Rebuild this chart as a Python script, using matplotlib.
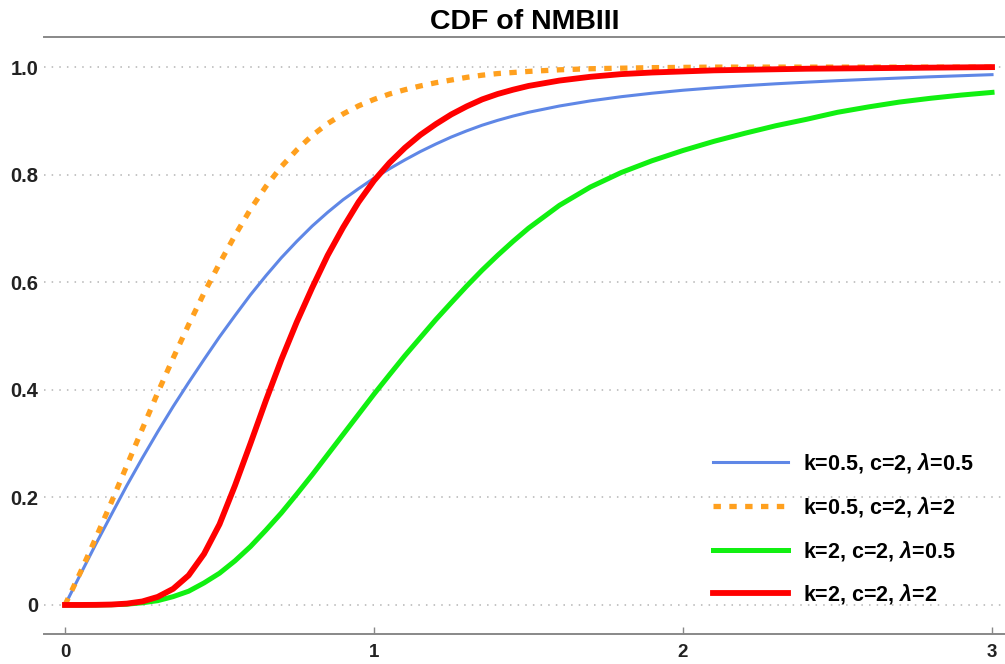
"""
CDF of NMBIII for four (k, c, lambda) settings
"""
import matplotlib
matplotlib.use('Agg')
import matplotlib.pyplot as plt

plt.rcParams['font.family'] = ['Liberation Sans', 'DejaVu Sans']
plt.rcParams['font.weight'] = 'bold'
plt.rcParams['mathtext.fontset'] = 'custom'
plt.rcParams['mathtext.it'] = 'Liberation Sans:italic:bold'
plt.rcParams['mathtext.rm'] = 'Liberation Sans:bold'

# x grid shared by all curves (finer where the curves bend)
x = [0.0, 0.05, 0.1, 0.15, 0.2, 0.25, 0.3, 0.35, 0.4, 0.45, 0.5, 0.55, 0.6,
     0.65, 0.7, 0.75, 0.8, 0.85, 0.9, 0.95, 1.0, 1.05, 1.1, 1.15, 1.2, 1.25,
     1.3, 1.35, 1.4, 1.45, 1.5, 1.6, 1.7, 1.8, 1.9, 2.0, 2.1, 2.2, 2.3, 2.4,
     2.5, 2.6, 2.7, 2.8, 2.9, 3.0]

# k=0.5, c=2, lambda=0.5
cdf_blue = [0.0, 0.057, 0.1135, 0.168, 0.222, 0.273, 0.322, 0.369, 0.4135, 0.4565,
            0.4985, 0.538, 0.5765, 0.612, 0.6455, 0.676, 0.7045, 0.730, 0.7535, 0.774,
            0.7935, 0.811, 0.8275, 0.843, 0.857, 0.870, 0.8815, 0.892, 0.901, 0.909,
            0.916, 0.9277, 0.9372, 0.945, 0.9515, 0.957, 0.9615, 0.9655, 0.969, 0.972,
            0.9748, 0.9773, 0.9797, 0.982, 0.984, 0.986]

# k=0.5, c=2, lambda=2
cdf_orange = [0.0, 0.061, 0.125, 0.191, 0.259, 0.327, 0.3945, 0.459, 0.521, 0.580,
              0.635, 0.687, 0.7355, 0.778, 0.815, 0.846, 0.873, 0.895, 0.913, 0.928,
              0.940, 0.950, 0.958, 0.965, 0.971, 0.976, 0.981, 0.985, 0.988, 0.990,
              0.992, 0.995, 0.997, 0.998, 0.999, 0.9995, 1.0, 1.0, 1.0, 1.0,
              1.0, 1.0, 1.0, 1.0, 1.0, 1.0]

# k=2, c=2, lambda=0.5
cdf_green = [0.0, 0.0, 0.0001, 0.0005, 0.0015, 0.004, 0.008, 0.0155, 0.0255, 0.041,
             0.059, 0.082, 0.1085, 0.139, 0.171, 0.206, 0.242, 0.2795, 0.317, 0.3545,
             0.392, 0.428, 0.4635, 0.497, 0.5305, 0.562, 0.593, 0.6225, 0.650, 0.676,
             0.7005, 0.743, 0.777, 0.804, 0.826, 0.845, 0.862, 0.877, 0.891, 0.903,
             0.916, 0.926, 0.935, 0.942, 0.948, 0.953]

# k=2, c=2, lambda=2
cdf_red = [0.0, 0.0, 0.0002, 0.0008, 0.0025, 0.0065, 0.015, 0.030, 0.055, 0.095,
           0.150, 0.222, 0.300, 0.380, 0.456, 0.526, 0.590, 0.650, 0.702, 0.749,
           0.789, 0.822, 0.850, 0.874, 0.894, 0.912, 0.927, 0.940, 0.950, 0.958,
           0.965, 0.975, 0.982, 0.987, 0.990, 0.992, 0.994, 0.995, 0.996, 0.997,
           0.9975, 0.998, 0.9985, 0.999, 0.9995, 1.0]

labels = ['k=0.5, c=2, $\\lambda$=0.5', 'k=0.5, c=2, $\\lambda$=2',
          'k=2, c=2, $\\lambda$=0.5', 'k=2, c=2, $\\lambda$=2']

fig = plt.figure(figsize=(10.05, 6.64), dpi=100)
ax = fig.add_axes([44 / 1005, 30 / 664, 961 / 1005, 597 / 664])

ax.plot(x, cdf_blue, color='#5f87e6', linewidth=2.2, label=labels[0])
ax.plot(x, cdf_orange, color='#ffa01e', linewidth=3.8, linestyle=(0, (1.4, 1.6)),
        dash_capstyle='butt', label=labels[1])
ax.plot(x, cdf_green, color='#11f011', linewidth=3.6, label=labels[2])
ax.plot(x, cdf_red, color='#ff0000', linewidth=4.2, label=labels[3])

ax.set_xlim(-0.068, 3.042)
ax.set_ylim(-0.054, 1.056)

ax.set_xticks([0, 1, 2, 3])
ax.set_xticklabels(['0', '1', '2', '3'])
ax.set_yticks([0, 0.2, 0.4, 0.6, 0.8, 1.0])
ax.set_yticklabels(['0', '0.2', '0.4', '0.6', '0.8', '1.0'])
ax.tick_params(axis='x', direction='in', length=5, width=1, color='#888888',
               pad=7, labelsize=13.5, labelcolor='#222222')
ax.tick_params(axis='y', length=0, pad=4, labelsize=14.5, labelcolor='#222222')

ax.grid(axis='y', color='#b4b4b4', linestyle=(0, (1, 4)), linewidth=1.1)
ax.set_axisbelow(True)

for side in ['left', 'right']:
    ax.spines[side].set_visible(False)
for side in ['top', 'bottom']:
    ax.spines[side].set_color('#888888')
    ax.spines[side].set_linewidth(1.4)

ax.set_title('CDF of NMBIII', fontsize=20.5, fontweight='bold', pad=6)

ax.legend(loc='upper left', bbox_to_anchor=(713 / 1005, 1 - 451 / 664),
          bbox_transform=fig.transFigure, frameon=False, fontsize=15.5,
          handlelength=3.48, handletextpad=0.7, labelspacing=0.92,
          borderpad=0, borderaxespad=0)

plt.savefig('out.png', dpi=100)
plt.close()
